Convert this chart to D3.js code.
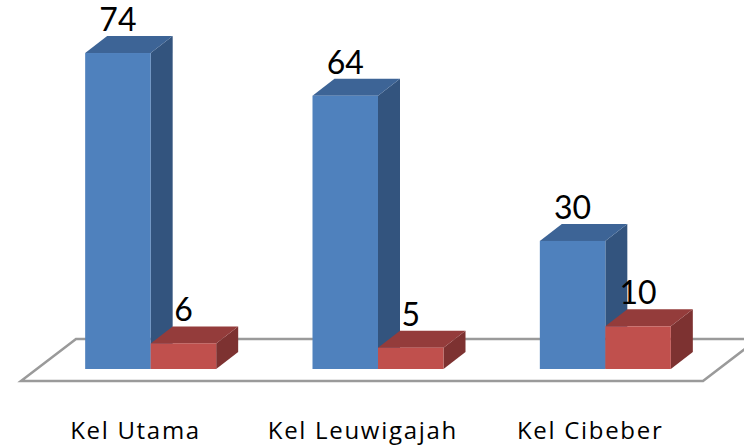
<!DOCTYPE html>
<html>
<head>
<meta charset="utf-8">
<script src="https://cdn.jsdelivr.net/npm/d3@7"></script>
<style>
  html, body { margin: 0; padding: 0; background: #ffffff; }
  svg { display: block; }
</style>
</head>
<body>
<script>
// Chart data
const categories = ["Kel Utama", "Kel Leuwigajah", "Kel Cibeber"];
const seriesNames = ["Seri 1", "Seri 2"];
const series1 = [74, 64, 30];
const series2 = [6, 5, 10];
const yMax = 80;

const W = 744, H = 448;
const svg = d3.select("body").append("svg").attr("width", W).attr("height", H);

// Palette per series: front, top, side
const palette = [
  { front: "#4f81bd", top: "#3d6496", side: "#33547e" },
  { front: "#c0504d", top: "#943c3b", side: "#7d3231" }
];

// Oblique depth of each bar, and floor extent in front of / behind the bar plane
const depth = { dx: 22, dy: -17 };
const floorFront = { dx: -16, dy: 12 };
const floorBack = { dx: 39, dy: -30 };

const baseY = 369;
const y = d3.scaleLinear().domain([0, yMax]).range([baseY, baseY - yMax * 4.27]);
const x0 = d3.scaleBand().domain(categories).range([37, 719]);
const groupW = 131;
const x1 = d3.scaleBand().domain(seriesNames).range([0, groupW]);

const rows = categories.map((c, i) => ({
  cat: c,
  values: [series1[i], series2[i]]
}));

// Floor
const fl = x0.range()[0], fr = x0.range()[1];
const floorPts = [
  [fl + floorFront.dx, baseY + floorFront.dy],
  [fr + floorFront.dx, baseY + floorFront.dy],
  [fr + floorBack.dx, baseY + floorBack.dy],
  [fl + floorBack.dx, baseY + floorBack.dy]
];
svg.append("polygon")
  .attr("points", floorPts.map(p => p.join(",")).join(" "))
  .attr("fill", "#ffffff")
  .attr("stroke", "#9a9a9a")
  .attr("stroke-width", 2.5)
  .attr("stroke-linejoin", "miter");

// Bars
const g = svg.append("g");
rows.forEach(r => {
  const gx = x0(r.cat) + (x0.bandwidth() - groupW) / 2;
  r.values.forEach((v, si) => {
    const col = palette[si];
    const xl = gx + x1(seriesNames[si]);
    const xr = xl + x1.bandwidth();
    const yt = y(v), yb = y(0);
    const b = g.append("g");
    // side face
    b.append("polygon")
      .attr("points", [[xr, yb], [xr + depth.dx, yb + depth.dy], [xr + depth.dx, yt + depth.dy], [xr, yt]].map(p => p.join(",")).join(" "))
      .attr("fill", col.side);
    // top face
    b.append("polygon")
      .attr("points", [[xl, yt], [xl + depth.dx, yt + depth.dy], [xr + depth.dx, yt + depth.dy], [xr, yt]].map(p => p.join(",")).join(" "))
      .attr("fill", col.top);
    // front face
    b.append("rect")
      .attr("x", xl).attr("y", yt)
      .attr("width", xr - xl).attr("height", yb - yt)
      .attr("fill", col.front);
    // value label
    b.append("text")
      .attr("x", (xl + xr) / 2)
      .attr("y", yt + depth.dy - 5)
      .attr("text-anchor", "middle")
      .attr("font-family", "Lato, 'Open Sans', sans-serif")
      .attr("font-size", 32)
      .attr("fill", "#000")
      .text(v);
  });
});

// Category labels, centred on the front edge of the floor
const catSpacing = 1.7;
svg.append("g").selectAll("text")
  .data(categories)
  .join("text")
  .attr("x", d => x0(d) + x0.bandwidth() / 2 + floorFront.dx + catSpacing / 2)
  .attr("y", 439)
  .attr("text-anchor", "middle")
  .attr("font-family", "'Open Sans', Lato, sans-serif")
  .attr("font-size", 24)
  .attr("letter-spacing", catSpacing)
  .attr("fill", "#000")
  .text(d => d);
</script>
</body>
</html>
